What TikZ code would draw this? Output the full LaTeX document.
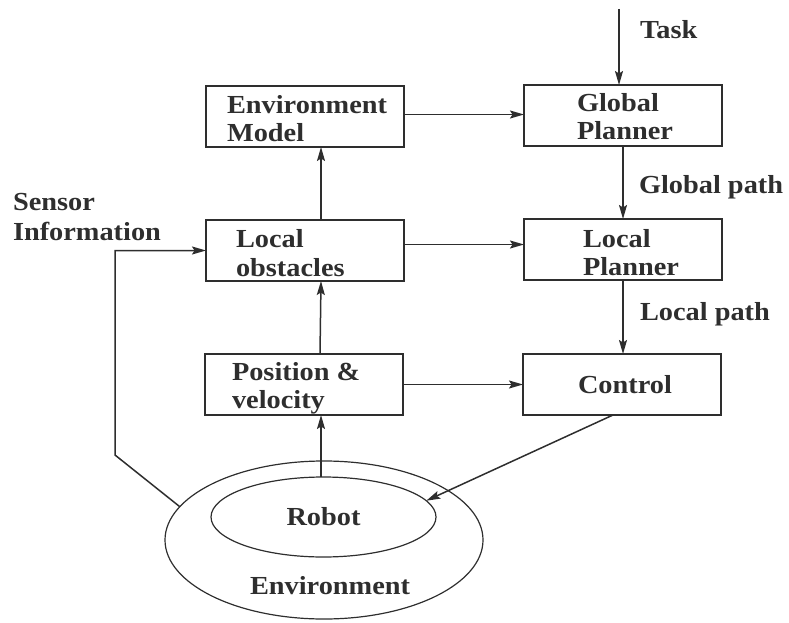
\documentclass[tikz,border=0pt]{standalone}
\usepackage{fontspec}
\setmainfont{Liberation Serif}[FakeStretch=1.09]
\usetikzlibrary{arrows.meta,shapes.geometric}
% two stacked lines whose reference point is the first baseline
\newcommand{\tworows}[2]{\vtop{\baselineskip=28.5pt\hbox{#1}\hbox{#2}}}
\begin{document}
\begin{tikzpicture}[x=1pt,y=-1pt,
  box/.style={draw=black!82, line width=1.5pt, rectangle, minimum width=198pt,
    minimum height=61pt, inner sep=0pt, outer sep=0pt, anchor=north west},
  lbl/.style={anchor=base west, inner sep=0pt, outer sep=0pt, text=black!82,
    font=\fontsize{26}{28.5}\selectfont\bfseries},
  arr/.style={draw=black!82, line width=1.5pt,
    -{Stealth[length=14pt,width=8pt,inset=2.5pt]}},
  ring/.style={draw=black!82, line width=1.2pt, ellipse, inner sep=0pt, outer sep=0pt}
]
\useasboundingbox (0,0) rectangle (789,623);

% blocks
\node[box] (envm) at (206,86)  {};
\node[box] (glob) at (524,85)  {};
\node[box] (lobs) at (206,220) {};
\node[box] (lpl)  at (524,219) {};
\node[box] (pos)  at (205,354) {};
\node[box] (ctrl) at (523,354) {};

% world and robot
\node[ring, minimum width=318pt, minimum height=158pt] (env) at (324,540) {};
\node[ring, minimum width=225pt, minimum height=80pt, text=black!82,
  font=\fontsize{26}{28.5}\selectfont\bfseries] (robot) at (323.5,517) {Robot};

% block texts
\node[lbl] (envmtxt) at (227,113.5) {\tworows{Environment}{Model}};
\node[lbl] (globtxt) at (577,111)   {\tworows{Global}{Planner}};
\node[lbl] (lobstxt) at (236,247.5) {\tworows{Local}{obstacles}};
\node[lbl] (lpltxt)  at (583,247)   {\tworows{Local}{Planner}};
\node[lbl] (postxt)  at (232,380)   {\tworows{Position \&}{velocity}};
\node[lbl] (ctrltxt) at (578,393)   {Control};
\node[lbl] (envtxt)  at (250,594)   {Environment};

% free labels
\node[lbl] (tasktxt) at (640,38.3) {Task};
\node[lbl] (gpath)   at (639,193)  {Global path};
\node[lbl] (lpath)   at (640,320)  {Local path};
\node[lbl] (sensor)  at (13,210.7) {\vtop{\baselineskip=29.3pt\hbox{Sensor}\hbox{Information}}};

% connectors
\coordinate (taskin) at (619,9);
\draw[arr] (taskin) -- (taskin |- glob.north);
\draw[arr] ([yshift=2pt]envm.east) -- ([yshift=2pt]envm.east -| glob.west);
\draw[arr] (glob.south) -- (lpl.north);
\draw[arr] ([yshift=6pt]lobs.east) -- ([yshift=6pt]lobs.east -| lpl.west);
\draw[arr] (lpl.south) -- (lpl.south |- ctrl.north);
\draw[arr] (pos.east) -- (ctrl.west);
\draw[arr] ([xshift=16pt]lobs.north) -- ([xshift=16pt]envm.south);
\draw[arr] ([xshift=16pt]pos.north) -- ([xshift=16pt]lobs.south);
\draw[arr] (robot.north -| 321,0) -- (pos.south -| 321,0);
\coordinate (bend) at (115,455);
\draw[arr] (env.167) -- (bend) -- (bend |- lobs.west) -- (lobs.west);
\draw[arr] ([xshift=-9pt]ctrl.south) -- (robot.9);
\end{tikzpicture}
\end{document}
